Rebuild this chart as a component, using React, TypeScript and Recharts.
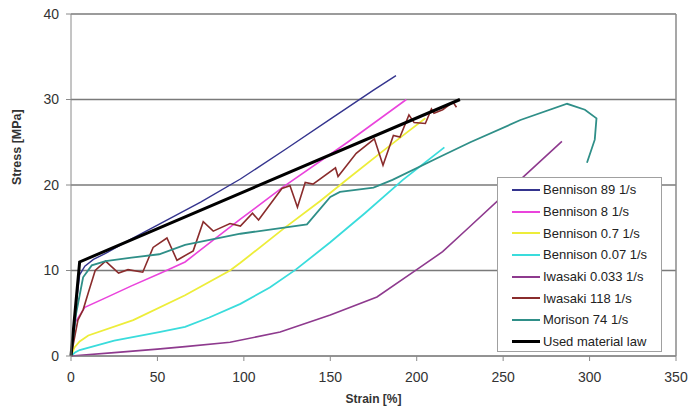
import React from "react"
import { LineChart, Line, XAxis, YAxis, CartesianGrid, ReferenceLine } from "recharts"

// strain [%], stress [MPa] pairs
const bennison89: [number, number][] = [
    [0, 0], [3, 6], [5, 9.5], [8, 10.5], [13, 11.3], [20, 12], [35, 13.7], [50, 15.3],
    [75, 18], [98, 20.7], [125, 24.3], [150, 27.7], [175, 31.1], [188, 32.8],
]
const bennison8: [number, number][] = [
    [0, 0], [2.3, 3.9], [8, 5.7], [20, 6.8], [35, 8.2], [52, 9.7], [66, 11], [80, 13.2],
    [98, 16], [123, 19.8], [160, 25], [194, 30],
]
const bennison07: [number, number][] = [
    [0, 0], [2, 1], [5, 1.7], [10, 2.4], [36, 4.2], [66, 7.1], [92, 10], [98, 10.9],
    [123, 14.9], [144, 18.1], [160, 20.7], [180, 23.9], [194, 26.1], [205, 27.8],
]
const bennison007: [number, number][] = [
    [0, 0], [2.3, 0.4], [5, 0.7], [25, 1.8], [51, 2.8], [66, 3.4], [80, 4.5], [98, 6.1],
    [115, 8], [130, 10.1], [150, 13.3], [170, 16.7], [192, 20.6], [216, 24.4],
]
const iwasaki0033: [number, number][] = [
    [0, 0], [25, 0.4], [50, 0.8], [66, 1.1], [92, 1.6], [121, 2.8], [150, 4.8], [177, 6.9],
    [200, 10.1], [215, 12.2], [230, 15], [262, 21], [284, 25.1],
]
const iwasaki118: [number, number][] = [
    [0, 0], [4, 4.2], [7, 5.4], [10, 7.4], [14, 10], [20, 11.1], [27.5, 9.7], [33, 10.1],
    [41.5, 9.8], [47.5, 12.7], [55.5, 13.8], [61.3, 11.2], [70.7, 12.3], [76.5, 15.7],
    [82.3, 14.6], [92, 15.5], [98, 15.2], [105, 16.7], [108.5, 15.9], [122, 19.6],
    [126.7, 19.9], [131, 17.4], [135.5, 20.3], [140, 20.1], [153, 22], [154.5, 21],
    [165, 23.7], [175.5, 25.4], [180.5, 22.3], [186.5, 25.8], [190.3, 25.6], [195.5, 28.2],
    [198.5, 27.3], [205, 27.2], [208.5, 28.9], [210, 28.4], [215, 28.8], [221, 29.7],
    [223, 29.1],
]
const morison74: [number, number][] = [
    [0, 0], [3, 5], [7, 9.2], [12, 10.6], [20, 11.1], [35, 11.5], [51, 11.9], [66, 13],
    [98, 14.3], [136.5, 15.4], [150, 18.6], [155.6, 19.2], [175, 19.7], [186, 20.6],
    [213.5, 23.3], [231, 25], [260, 27.6], [287, 29.5], [297.3, 28.8], [304, 27.8],
    [303, 25.3], [298.5, 22.6],
]
const materialLaw: [number, number][] = [[0, 0], [5, 11], [225, 30]]

const seriesNames = [
    "Bennison 89 1/s",
    "Bennison 8 1/s",
    "Bennison 0.7 1/s",
    "Bennison 0.07 1/s",
    "Iwasaki 0.033 1/s",
    "Iwasaki 118 1/s",
    "Morison 74 1/s",
    "Used material law",
]
const seriesPoints = [bennison89, bennison8, bennison07, bennison007, iwasaki0033, iwasaki118, morison74, materialLaw]
const seriesColors = ["#34348e", "#ea44dc", "#eded3a", "#3adcdc", "#8e3a8e", "#8a2c2c", "#2f8f88", "#000000"]
const seriesWidths = [1.4, 1.6, 1.8, 1.8, 1.6, 1.6, 1.8, 3]

const xTicks = [0, 50, 100, 150, 200, 250, 300, 350]
const yTicks = [0, 10, 20, 30, 40]

const FONT = "'Liberation Sans', Arial, sans-serif"

const toRows = (pts: [number, number][]) => pts.map(([x, y]) => ({ x, y }))

const App: React.FC = () => {
    return (
        <div style={{ position: "absolute", left: 0, top: 0, width: 688, height: 406, background: "#fff", fontFamily: FONT }}>
            <LineChart width={688} height={406} margin={{ top: 14, right: 12, bottom: 0, left: 0 }}>
                <CartesianGrid horizontal vertical={false} stroke="#7a7a7a" strokeWidth={1.5} />
                <XAxis
                    type="number"
                    dataKey="x"
                    domain={[0, 350]}
                    ticks={xTicks}
                    height={50}
                    tickSize={5}
                    tickMargin={11}
                    stroke="#8a8a8a"
                    tick={{ fill: "#333", fontSize: 14, fontFamily: FONT }}
                    label={{ value: "Strain [%]", position: "insideBottom", offset: 3, fill: "#333", fontSize: 12, fontWeight: "bold", fontFamily: FONT }}
                />
                <YAxis
                    type="number"
                    domain={[0, 40]}
                    ticks={yTicks}
                    width={71}
                    tickSize={5}
                    tickMargin={7}
                    stroke="#8a8a8a"
                    tick={{ fill: "#333", fontSize: 14, fontFamily: FONT }}
                    label={{ value: "Stress [MPa]", angle: -90, position: "insideLeft", offset: 17, fill: "#333", fontSize: 12.5, fontWeight: "bold", fontFamily: FONT }}
                />
                <ReferenceLine x={350} stroke="#8a8a8a" strokeWidth={1.5} />
                {seriesPoints.map((pts, i) => (
                    <Line
                        key={seriesNames[i]}
                        data={toRows(pts)}
                        dataKey="y"
                        name={seriesNames[i]}
                        type="linear"
                        stroke={seriesColors[i]}
                        strokeWidth={seriesWidths[i]}
                        dot={false}
                        activeDot={false}
                        isAnimationActive={false}
                    />
                ))}
            </LineChart>
            <div
                style={{
                    position: "absolute",
                    left: 497,
                    top: 177,
                    width: 165,
                    height: 175,
                    boxSizing: "border-box",
                    border: "1px solid #a0a0a0",
                    background: "#fff",
                    paddingTop: 1,
                }}
            >
                {seriesNames.map((name, i) => (
                    <div key={name} style={{ display: "flex", alignItems: "center", height: 21.7, fontSize: 13, color: "#222" }}>
                        <div style={{ width: 28, marginLeft: 14, marginRight: 3, height: i === 7 ? 3 : 2, background: seriesColors[i] }} />
                        <span>{name}</span>
                    </div>
                ))}
            </div>
        </div>
    )
}

export default App
